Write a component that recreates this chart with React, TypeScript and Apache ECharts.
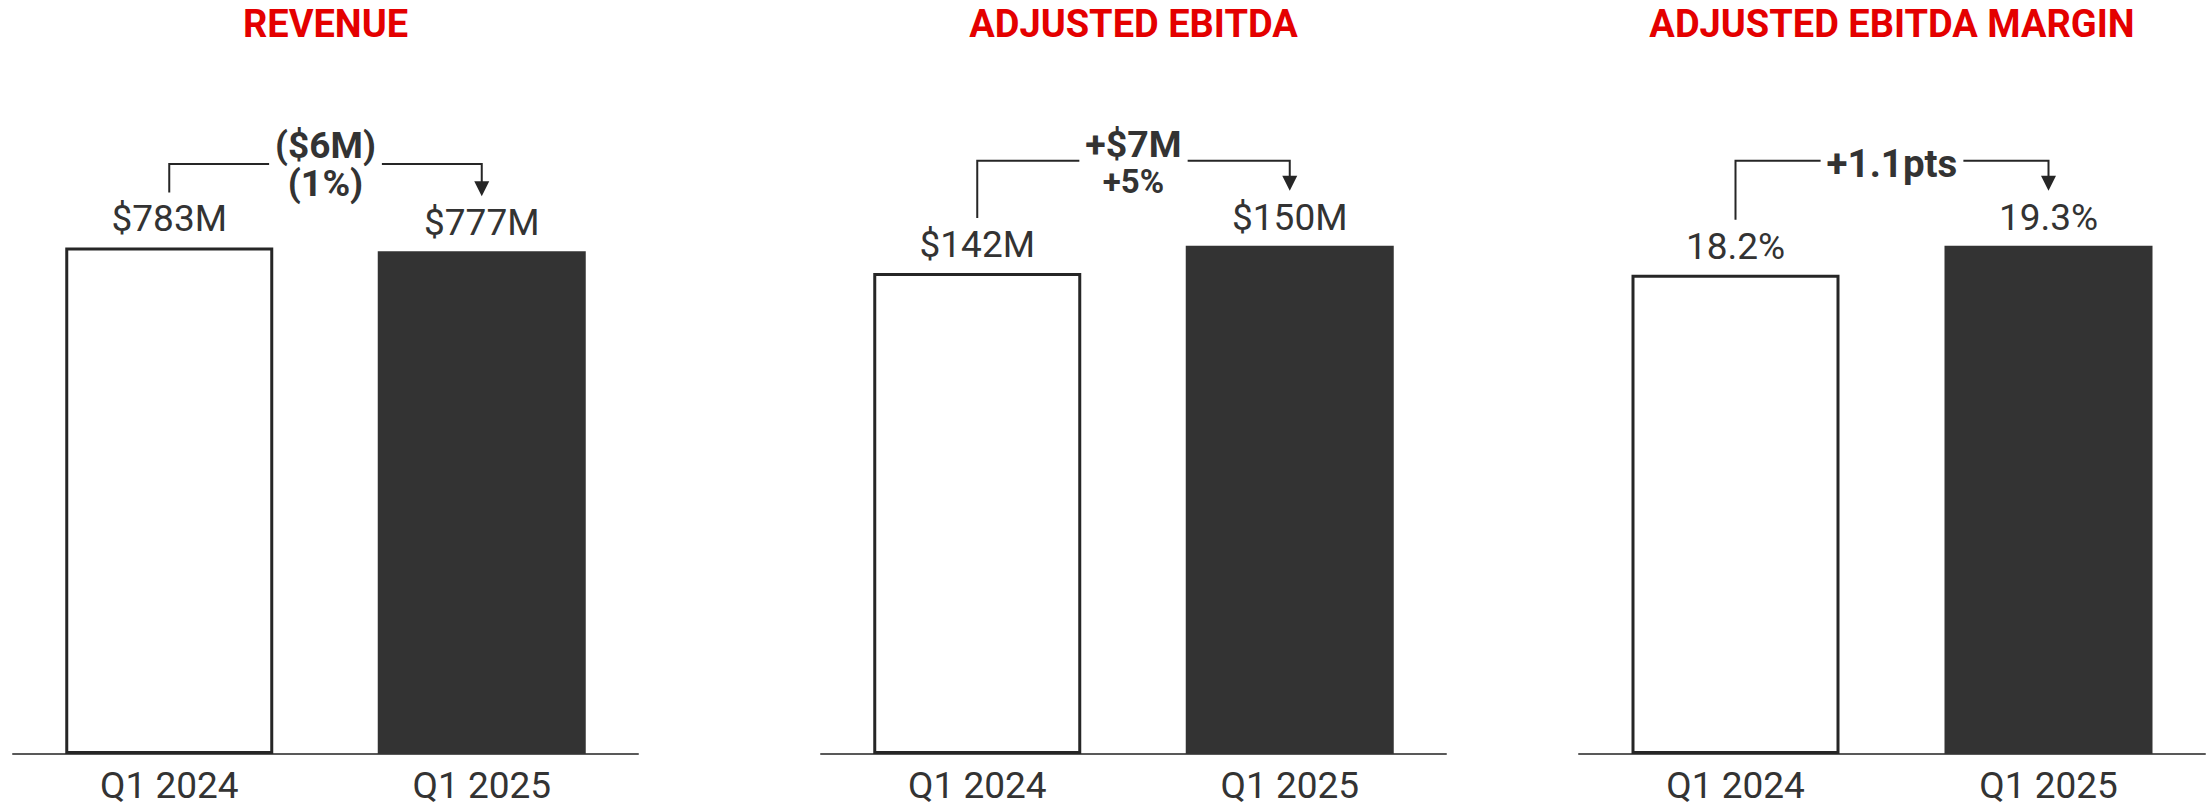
import React, { useEffect, useRef } from 'react';
import * as echarts from 'echarts';

// ---- data ----
const categories = ['Q1 2024', 'Q1 2025'];
const titles = ['REVENUE', 'ADJUSTED EBITDA', 'ADJUSTED EBITDA MARGIN'];
const revenue = [783, 777];
const ebitda = [142, 150];
const margin = [18.2, 19.3];
const revenueLabels = ['$783M', '$777M'];
const ebitdaLabels = ['$142M', '$150M'];
const marginLabels = ['18.2%', '19.3%'];
const changeMain = ['($6M)', '+$7M', '+1.1pts'];
const changeSub = ['(1%)', '+5%', ''];
const axisMax = [1000, 200, 25];

// ---- layout / style ----
const panels = [
  { left: 13, width: 625, top: 107, bracketY: 164, mainY: 145, subY: 183, mainSize: 37, subSize: 37.5 },
  { left: 821, width: 625, top: 76.4, bracketY: 160.7, mainY: 144, subY: 181, mainSize: 37.5, subSize: 33 },
  { left: 1579, width: 626, top: 95.7, bracketY: 160.7, mainY: 163, subY: 0, mainSize: 38.5, subSize: 0 },
];
const FONT = 'Roboto';
const RED = '#E40000';
const DARK = '#333333';
const LINE = '#262626';

export default function App() {
  const ref = useRef<HTMLDivElement>(null);
  useEffect(() => {
    const chart = echarts.init(ref.current!, null, { renderer: 'svg' });
    const values = [revenue, ebitda, margin];
    const labels = [revenueLabels, ebitdaLabels, marginLabels];
    const grid = panels.map((p) => ({ left: p.left, width: p.width, top: p.top, bottom: 49 }));
    const xAxis = panels.map((_p, i) => ({
      type: 'category',
      gridIndex: i,
      data: categories,
      axisLine: { show: true, lineStyle: { color: '#595959', width: 2 } },
      axisTick: { show: false },
      axisLabel: { fontFamily: FONT, fontSize: 37, lineHeight: 33, color: DARK, margin: 15 },
    }));
    const yAxis = panels.map((_p, i) => ({
      type: 'value',
      gridIndex: i,
      min: 0,
      max: axisMax[i],
      show: false,
      splitLine: { show: false },
    }));
    const series = values.map((vals, i) => ({
      type: 'bar',
      xAxisIndex: i,
      yAxisIndex: i,
      barWidth: 208,
      data: vals.map((v, j) => ({
        value: v,
        itemStyle: j === 0 ? { color: '#ffffff', borderColor: LINE, borderWidth: 3 } : { color: DARK },
      })),
      label: {
        show: true,
        position: 'top',
        distance: 10,
        fontFamily: FONT,
        fontSize: 37,
        lineHeight: 37,
        color: DARK,
        formatter: (p: any) => labels[i][p.dataIndex],
      },
    }));
    chart.setOption({ animation: false, grid, xAxis, yAxis, series });

    const ctx = document.createElement('canvas').getContext('2d')!;
    const measure = (t: string, size: number) => {
      ctx.font = `bold ${size}px ${FONT}`;
      return ctx.measureText(t).width;
    };

    const elements: any[] = [];
    panels.forEach((p, i) => {
      const cx = p.left + p.width / 2;
      elements.push({
        type: 'text',
        x: cx,
        y: 24,
        style: { text: titles[i], fill: RED, fontFamily: FONT, fontSize: 38, fontWeight: 'bold', textAlign: 'center', textVerticalAlign: 'middle' },
      });
      const a = chart.convertToPixel({ seriesIndex: i }, [0, values[i][0]]) as number[];
      const b = chart.convertToPixel({ seriesIndex: i }, [1, values[i][1]]) as number[];
      const w = Math.max(measure(changeMain[i], p.mainSize), changeSub[i] ? measure(changeSub[i], p.subSize) : 0);
      const gap = 6;
      const l = cx - w / 2 - gap;
      const r = cx + w / 2 + gap;
      const yA = a[1] - 55;
      const tip = b[1] - 55;
      const ah = 15;
      elements.push({
        type: 'polyline',
        shape: { points: [[a[0], yA], [a[0], p.bracketY], [l, p.bracketY]] },
        style: { stroke: LINE, lineWidth: 2, fill: null },
      });
      elements.push({
        type: 'polyline',
        shape: { points: [[r, p.bracketY], [b[0], p.bracketY], [b[0], tip - ah + 1]] },
        style: { stroke: LINE, lineWidth: 2, fill: null },
      });
      elements.push({
        type: 'polygon',
        shape: { points: [[b[0] - 7.5, tip - ah], [b[0] + 7.5, tip - ah], [b[0], tip]] },
        style: { fill: LINE },
      });
      elements.push({
        type: 'text',
        x: cx,
        y: p.mainY,
        style: { text: changeMain[i], fill: DARK, fontFamily: FONT, fontSize: p.mainSize, fontWeight: 'bold', textAlign: 'center', textVerticalAlign: 'middle' },
      });
      if (changeSub[i]) {
        elements.push({
          type: 'text',
          x: cx,
          y: p.subY,
          style: { text: changeSub[i], fill: DARK, fontFamily: FONT, fontSize: p.subSize, fontWeight: 'bold', textAlign: 'center', textVerticalAlign: 'middle' },
        });
      }
    });
    chart.setOption({ graphic: elements });
    return () => chart.dispose();
  }, []);
  return <div ref={ref} style={{ position: 'absolute', left: 0, top: 0, width: 2208, height: 804 }} />;
}
